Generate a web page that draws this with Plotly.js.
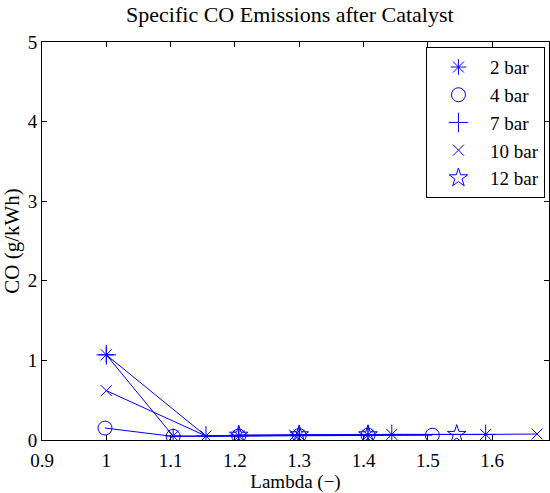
<!DOCTYPE html>
<html>
<head>
<meta charset="utf-8">
<script src="https://cdn.plot.ly/plotly-3.0.1.min.js"></script>
<style>html,body{margin:0;padding:0;background:#fff;}#chart{width:550px;height:493px;}</style>
</head>
<body>
<div id="chart"></div>
<script>
// Series data
const seriesNames = ["2 bar", "4 bar", "7 bar", "10 bar", "12 bar"];
const lambda2 = [1.0, 1.104, 1.206, 1.30, 1.407];
const co2 = [1.07, 0.05, 0.05, 0.06, 0.06];
const lambda4 = [0.998, 1.104, 1.206, 1.30, 1.407, 1.507];
const co4 = [0.15, 0.045, 0.05, 0.055, 0.06, 0.06];
const lambda7 = [1.0, 1.155, 1.206, 1.30, 1.407, 1.444, 1.59];
const co7 = [1.07, 0.05, 0.06, 0.065, 0.07, 0.07, 0.07];
const lambda10 = [1.0, 1.155, 1.293, 1.444, 1.59, 1.67];
const co10 = [0.62, 0.05, 0.06, 0.07, 0.07, 0.075];
const lambda12 = [1.206, 1.30, 1.407, 1.545];
const co12 = [0.06, 0.065, 0.065, 0.07];
const xTickVals = [0.9, 1.0, 1.1, 1.2, 1.3, 1.4, 1.5, 1.6];
const xTickText = ["0.9", "1", "1.1", "1.2", "1.3", "1.4", "1.5", "1.6"];
const yTickVals = [0, 1, 2, 3, 4, 5];

const xs = [lambda2, lambda4, lambda7, lambda10, lambda12];
const ys = [co2, co4, co7, co10, co12];
const symbols = ["asterisk-open", "circle-open", "cross-thin-open", "x-thin-open", "star-open"];
const sizes = [13, 14, 14, 11, 14];
const blue = "rgb(0,0,255)";

const traces = [];
// lines (not in legend)
for (let i = 0; i < xs.length; i++) {
  traces.push({
    x: xs[i], y: ys[i], type: "scatter", mode: "lines",
    line: {color: blue, width: 1}, showlegend: false, hoverinfo: "skip"
  });
}
// markers (in legend)
for (let i = 0; i < xs.length; i++) {
  traces.push({
    x: xs[i], y: ys[i], type: "scatter", mode: "markers", name: seriesNames[i],
    marker: {symbol: symbols[i], size: sizes[i], color: blue, line: {color: blue, width: 1}}
  });
}

const fam = "Liberation Serif, Times New Roman, serif";
const layout = {
  width: 550, height: 493,
  margin: {l: 42, r: 1, t: 42, b: 53},
  paper_bgcolor: "#fff", plot_bgcolor: "#fff",
  font: {family: fam, size: 20, color: "#000"},
  title: {text: "Specific CO Emissions after Catalyst", font: {family: fam, size: 22, color: "#000"}, x: 0.527, xanchor: "center", y: 0.972, yanchor: "middle"},
  xaxis: {
    range: [0.9, 1.6885], tickvals: xTickVals, ticktext: xTickText,
    ticks: "inside", ticklen: 5, tickcolor: "#000", showline: true, linecolor: "#000", linewidth: 1,
    mirror: "ticks", showgrid: false, zeroline: false, ticklabelstandoff: 3,
    tickfont: {family: fam, size: 19, color: "#000"},
    title: {text: "Lambda (−)", font: {family: fam, size: 19, color: "#000"}, standoff: 0}
  },
  yaxis: {
    range: [0, 5], tickvals: yTickVals,
    ticks: "inside", ticklen: 5, tickcolor: "#000", showline: true, linecolor: "#000", linewidth: 1,
    mirror: "ticks", showgrid: false, zeroline: false,
    tickfont: {family: fam, size: 19, color: "#000"},
    title: {text: "CO (g/kWh)", font: {family: fam, size: 21, color: "#000"}, standoff: 7}
  },
  legend: {
    x: 0.992, y: 0.987, xanchor: "right", yanchor: "top",
    bgcolor: "#fff", bordercolor: "#000", borderwidth: 1,
    font: {family: fam, size: 19, color: "#000"}, itemwidth: 53, tracegroupgap: 0
  },
  showlegend: true
};

Plotly.newPlot("chart", traces, layout, {displayModeBar: false, staticPlot: true});
</script>
</body>
</html>
